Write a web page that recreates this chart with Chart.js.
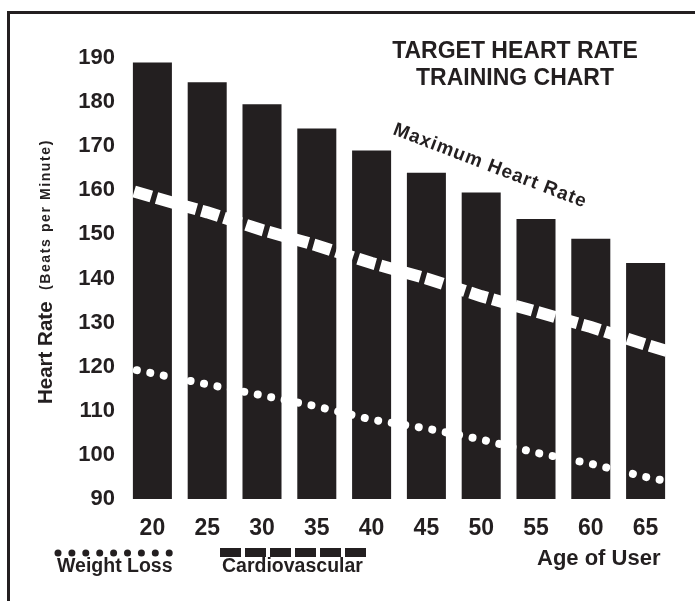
<!DOCTYPE html>
<html>
<head>
<meta charset="utf-8">
<script src="https://cdn.jsdelivr.net/npm/chart.js@4.4.1/dist/chart.umd.min.js"></script>
<style>
  body { margin: 0; background: #fff; }
</style>
</head>
<body>
<canvas id="chart" width="695" height="601"></canvas>
<script>
"use strict"

// values
const ages = ['20', '25', '30', '35', '40', '45', '50', '55', '60', '65'];
const maxRate = [189, 184.5, 179.5, 174, 169, 164, 159.5, 153.5, 149, 143.5];

// the two zone lines run a little past the first and last bar
const lineAges = [18, 20, 25, 30, 35, 40, 45, 50, 55, 60, 65, 67];
const cardio = [160, 158.5, 155, 151, 147.5, 143.5, 140, 136, 132.5, 129, 125, 123.5];
const weightLoss = [119.5, 118.5, 116, 113.5, 111, 108, 106, 103.5, 100.5, 98, 95, 94];

const yTicks = [90, 100, 110, 120, 130, 140, 150, 160, 170, 180, 190];

const ink = '#231f20';
const font = '"Liberation Sans", Arial, sans-serif';

function toPoints(xs, ys) {
    return xs.map((x, i) => ({ x: x, y: ys[i] }));
}

const decor = {
    id: 'decor',
    beforeDraw(chart) {
        const ctx = chart.ctx;
        ctx.save();
        ctx.fillStyle = ink;
        ctx.fillRect(7, 11, 688, 3);
        ctx.fillRect(7, 11, 3, 590);
        ctx.restore();
    },
    afterDraw(chart) {
        const ctx = chart.ctx;
        ctx.save();
        ctx.fillStyle = ink;

        // title
        ctx.font = `bold 23px ${font}`;
        ctx.textAlign = 'center';
        ctx.textBaseline = 'middle';
        ctx.fillText('TARGET HEART RATE', 515, 52);
        ctx.fillText('TRAINING CHART', 515, 79);

        // label along the bar tops
        ctx.save();
        ctx.translate(392, 134);
        ctx.rotate(21 * Math.PI / 180);
        ctx.font = `bold 19px ${font}`;
        ctx.letterSpacing = '1px';
        ctx.textAlign = 'left';
        ctx.textBaseline = 'alphabetic';
        ctx.fillText('Maximum Heart Rate', 0, 0);
        ctx.restore();

        // y axis title, two sizes
        ctx.save();
        ctx.translate(52, 404);
        ctx.rotate(-Math.PI / 2);
        ctx.textAlign = 'left';
        ctx.textBaseline = 'alphabetic';
        ctx.font = `bold 20.5px ${font}`;
        ctx.fillText('Heart Rate', 0, 0);
        ctx.font = `bold 14px ${font}`;
        ctx.letterSpacing = '1.6px';
        ctx.fillText('(Beats per Minute)', 114, -2);
        ctx.restore();

        // x axis title
        ctx.font = `bold 22px ${font}`;
        ctx.textAlign = 'left';
        ctx.textBaseline = 'alphabetic';
        ctx.fillText('Age of User', 537, 565);

        // legend
        for (let i = 0; i < 9; i++) {
            ctx.beginPath();
            ctx.arc(58 + i * 13.9, 553, 3.5, 0, Math.PI * 2);
            ctx.fill();
        }
        for (let i = 0; i < 6; i++) {
            ctx.fillRect(220 + i * 25, 548, 21, 9);
        }
        ctx.font = `bold 19.5px ${font}`;
        ctx.fillText('Weight Loss', 57, 572);
        ctx.fillText('Cardiovascular', 222, 572);

        ctx.restore();
    }
};

new Chart(document.getElementById('chart'), {
    type: 'bar',
    data: {
        labels: ages,
        datasets: [
            {
                label: 'Maximum Heart Rate',
                data: maxRate,
                backgroundColor: ink,
                borderWidth: 0,
                grouped: false,
                barPercentage: 0.712,
                categoryPercentage: 1,
                order: 2
            },
            {
                type: 'line',
                label: 'Cardiovascular',
                xAxisID: 'xl',
                data: toPoints(lineAges, cardio),
                borderColor: '#ffffff',
                borderWidth: 12,
                borderDash: [18, 5.4],
                borderDashOffset: 19.6,
                borderCapStyle: 'butt',
                pointRadius: 0,
                tension: 0,
                order: 1
            },
            {
                type: 'line',
                label: 'Weight Loss',
                xAxisID: 'xl',
                data: toPoints(lineAges, weightLoss),
                borderColor: '#ffffff',
                borderWidth: 8,
                borderDash: [0.01, 13.69],
                borderDashOffset: 7.2,
                borderCapStyle: 'round',
                pointRadius: 0,
                tension: 0,
                order: 1
            }
        ]
    },
    options: {
        responsive: false,
        animation: false,
        devicePixelRatio: 1,
        layout: { padding: { top: 58, right: 22, bottom: 0, left: 0 } },
        plugins: {
            legend: { display: false },
            tooltip: { enabled: false }
        },
        scales: {
            x: {
                grid: { display: false, drawTicks: false },
                border: { display: false },
                ticks: {
                    color: ink,
                    font: { family: font, size: 23, weight: 'bold' },
                    padding: 16,
                    maxRotation: 0
                },
                afterFit(scale) { scale.height = 102; }
            },
            xl: {
                type: 'linear',
                display: false,
                offset: false,
                min: 17.5,
                max: 67.5
            },
            y: {
                min: 90,
                max: 190,
                grid: { display: false, drawTicks: false },
                border: { display: false },
                ticks: {
                    color: ink,
                    font: { family: font, size: 22, weight: 'bold' },
                    padding: 10
                },
                afterBuildTicks(scale) {
                    scale.ticks = yTicks.map(v => ({ value: v }));
                },
                afterFit(scale) { scale.width = 125; }
            }
        }
    },
    plugins: [decor]
});
</script>
</body>
</html>
